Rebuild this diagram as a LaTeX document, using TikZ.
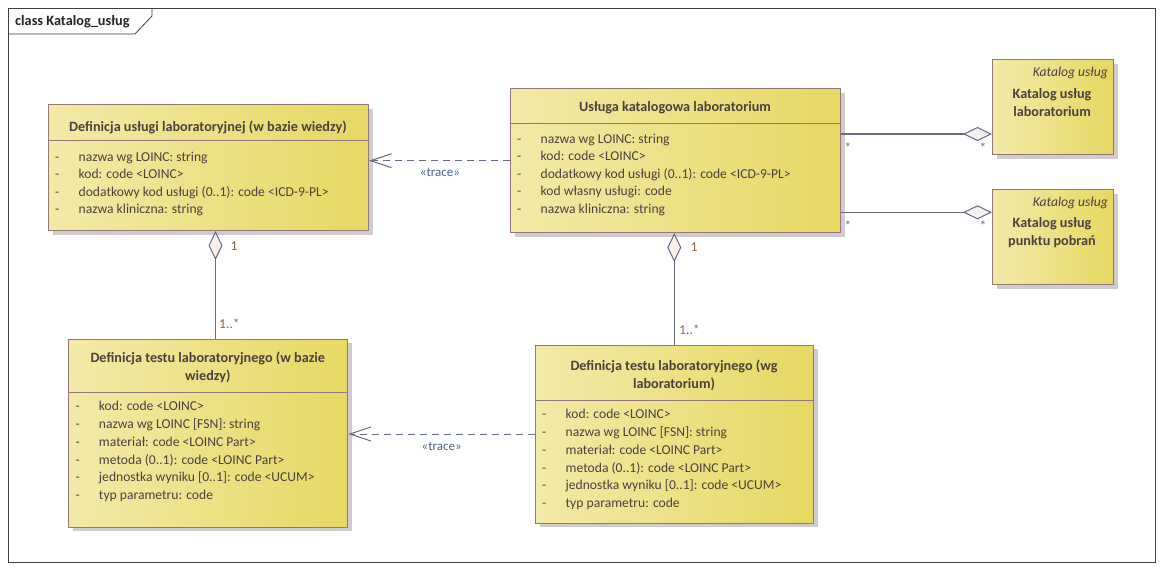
\documentclass[tikz,border=0pt]{standalone}
\usepackage{fontspec}
\setmainfont{Carlito}
\usetikzlibrary{arrows.meta,shadows}
\definecolor{fillL}{RGB}{242,234,168}
\definecolor{fillR}{RGB}{230,216,98}
\definecolor{bordc}{RGB}{150,120,120}
\definecolor{txtc}{RGB}{75,65,65}
\definecolor{linec}{RGB}{100,108,135}
\definecolor{diafill}{RGB}{248,240,236}
\definecolor{multc}{RGB}{150,100,60}
\definecolor{tracec}{RGB}{75,100,140}
\definecolor{shadc}{RGB}{205,205,205}
\tikzset{
  cls/.style={draw=bordc, line width=1pt, left color=fillL, right color=fillR,
    anchor=north west, inner sep=0pt, rectangle,
    drop shadow={shadow xshift=4pt, shadow yshift=-4pt, fill=shadc, opacity=1}},
  sep/.style={draw=bordc, line width=0.8pt},
  ttl/.style={font=\fontsize{14.2}{17.6}\selectfont\bfseries, text=txtc, inner sep=0pt, anchor=base, align=center},
  attr/.style={font=\fontsize{13.6}{17.6}\selectfont, text=txtc, inner sep=0pt, anchor=base west, align=left},
  ster/.style={font=\fontsize{13.6}{17.6}\selectfont\itshape, text=txtc, inner sep=0pt, anchor=base east},
  trace/.style={draw=linec, line width=1pt, dash pattern=on 7pt off 5pt, -{Straight Barb[length=21pt,width=14pt,line width=1pt]}},
  agg/.style={draw=linec, line width=1.1pt, {Diamond[length=29pt,width=14pt,fill=diafill,line width=1pt]}-},
  tracelbl/.style={font=\fontsize{13}{16}\selectfont, text=tracec, inner sep=0pt},
  mult/.style={font=\fontsize{13.6}{16}\selectfont, text=multc, inner sep=0pt},
  star/.style={font=\fontsize{13.6}{16}\selectfont, text=linec, inner sep=0pt},
}
\newcommand{\at}[1]{\makebox[23.5pt][l]{-}#1}
\begin{document}
\begin{tikzpicture}[x=1pt,y=-1pt]
\useasboundingbox (0,0) rectangle (1163,571);
\fill[white] (0,0) rectangle (1163,571);
% frame
\draw[black!75, line width=0.8pt] (8,8) rectangle (1155,562);
\draw[black!75, line width=0.8pt] (8,34) -- (135,34) -- (152,16) -- (152,8);
\node[font=\fontsize{14.3}{16}\selectfont\bfseries, text=black!85, anchor=base west, inner sep=0pt] (ftitle) at (15,25) {class Katalog\_usług};

% class 1
\node[cls, minimum width=320pt, minimum height=126pt] (c1) at (48,104) {};
\draw[sep] (c1.west |- 0,140.7) -- (c1.east |- 0,140.7);
\node[ttl] (c1t) at (208,131) {Definicja usługi laboratoryjnej (w bazie wiedzy)};
\node[attr] (c1a) at (55,213.8) {\at{nazwa wg LOINC: string}\\\at{kod: code <LOINC>}\\\at{dodatkowy kod usługi (0..1): code <ICD-9-PL>}\\\at{nazwa kliniczna: string}};

% class 2
\node[cls, minimum width=330pt, minimum height=144pt] (c2) at (510,88) {};
\draw[sep] (c2.west |- 0,123.3) -- (c2.east |- 0,123.3);
\node[ttl] (c2t) at (675,111) {Usługa katalogowa laboratorium};
\node[attr] (c2a) at (517,213.5) {\at{nazwa wg LOINC: string}\\\at{kod: code <LOINC>}\\\at{dodatkowy kod usługi (0..1): code <ICD-9-PL>}\\\at{kod własny usługi: code}\\\at{nazwa kliniczna: string}};

% class 3
\node[cls, minimum width=121pt, minimum height=95pt] (c3) at (992,59) {};
\node[ster] (c3s) at (1108,76.5) {Katalog usług};
\node[ttl] (c3t) at (1052,116.1) {Katalog usług\\laboratorium};

% class 4
\node[cls, minimum width=121pt, minimum height=95pt] (c4) at (992,189) {};
\node[ster] (c4s) at (1108,206) {Katalog usług};
\node[ttl, font=\fontsize{14.2}{18.4}\selectfont\bfseries] (c4t) at (1052,245.9) {Katalog usług\\punktu pobrań};

% class 5
\node[cls, minimum width=279pt, minimum height=188pt] (c5) at (68.3,338.5) {};
\draw[sep] (c5.west |- 0,392.7) -- (c5.east |- 0,392.7);
\node[ttl, font=\fontsize{14.2}{18.4}\selectfont\bfseries] (c5t) at (207.8,380.9) {Definicja testu laboratoryjnego (w bazie\\wiedzy)};
\node[attr, font=\fontsize{13.6}{17.7}\selectfont] (c5a) at (75.3,499.4) {\at{kod: code <LOINC>}\\\at{nazwa wg LOINC [FSN]: string}\\\at{materiał: code <LOINC Part>}\\\at{metoda (0..1): code <LOINC Part>}\\\at{jednostka wyniku [0..1]: code <UCUM>}\\\at{typ parametru: code}};

% class 6
\node[cls, minimum width=278pt, minimum height=178pt] (c6) at (535,344.5) {};
\draw[sep] (c6.west |- 0,400.7) -- (c6.east |- 0,400.7);
\node[ttl, font=\fontsize{14.2}{17.4}\selectfont\bfseries] (c6t) at (674,388.2) {Definicja testu laboratoryjnego (wg\\laboratorium)};
\node[attr, font=\fontsize{13.6}{17.9}\selectfont] (c6a) at (542,507.8) {\at{kod: code <LOINC>}\\\at{nazwa wg LOINC [FSN]: string}\\\at{materiał: code <LOINC Part>}\\\at{metoda (0..1): code <LOINC Part>}\\\at{jednostka wyniku [0..1]: code <UCUM>}\\\at{typ parametru: code}};

% trace connectors
\draw[trace] (c2.west |- 0,160.7) -- (c1.east |- 0,160.7);
\node[tracelbl] (tr1) at (440,172.7) {«trace»};
\draw[trace] (c6.west |- 0,434) -- (c5.east |- 0,434);
\node[tracelbl] (tr2) at (441.7,446.7) {«trace»};

% vertical aggregations
\draw[agg] (215.5,0 |- c1.south) -- (215.5,0 |- c5.north);
\node[mult] (m1a) at (234,246.5) {1};
\node[mult] (m1b) at (229.5,323.5) {1..*};
\draw[agg] (674.3,0 |- c2.south) -- (674.3,0 |- c6.north);
\node[mult] (m2a) at (694,247.5) {1};
\node[mult] (m2b) at (689.5,330) {1..*};

% horizontal aggregations
\draw[agg] (c3.west |- 0,134) -- (c2.east |- 0,134);
\node[star] (s1a) at (848,148) {*};
\node[star] (s1b) at (983,148) {*};
\draw[agg] (c4.west |- 0,212.3) -- (c2.east |- 0,212.3);
\node[star] (s2a) at (848,225.5) {*};
\node[star] (s2b) at (983,225.5) {*};
\end{tikzpicture}
\end{document}
